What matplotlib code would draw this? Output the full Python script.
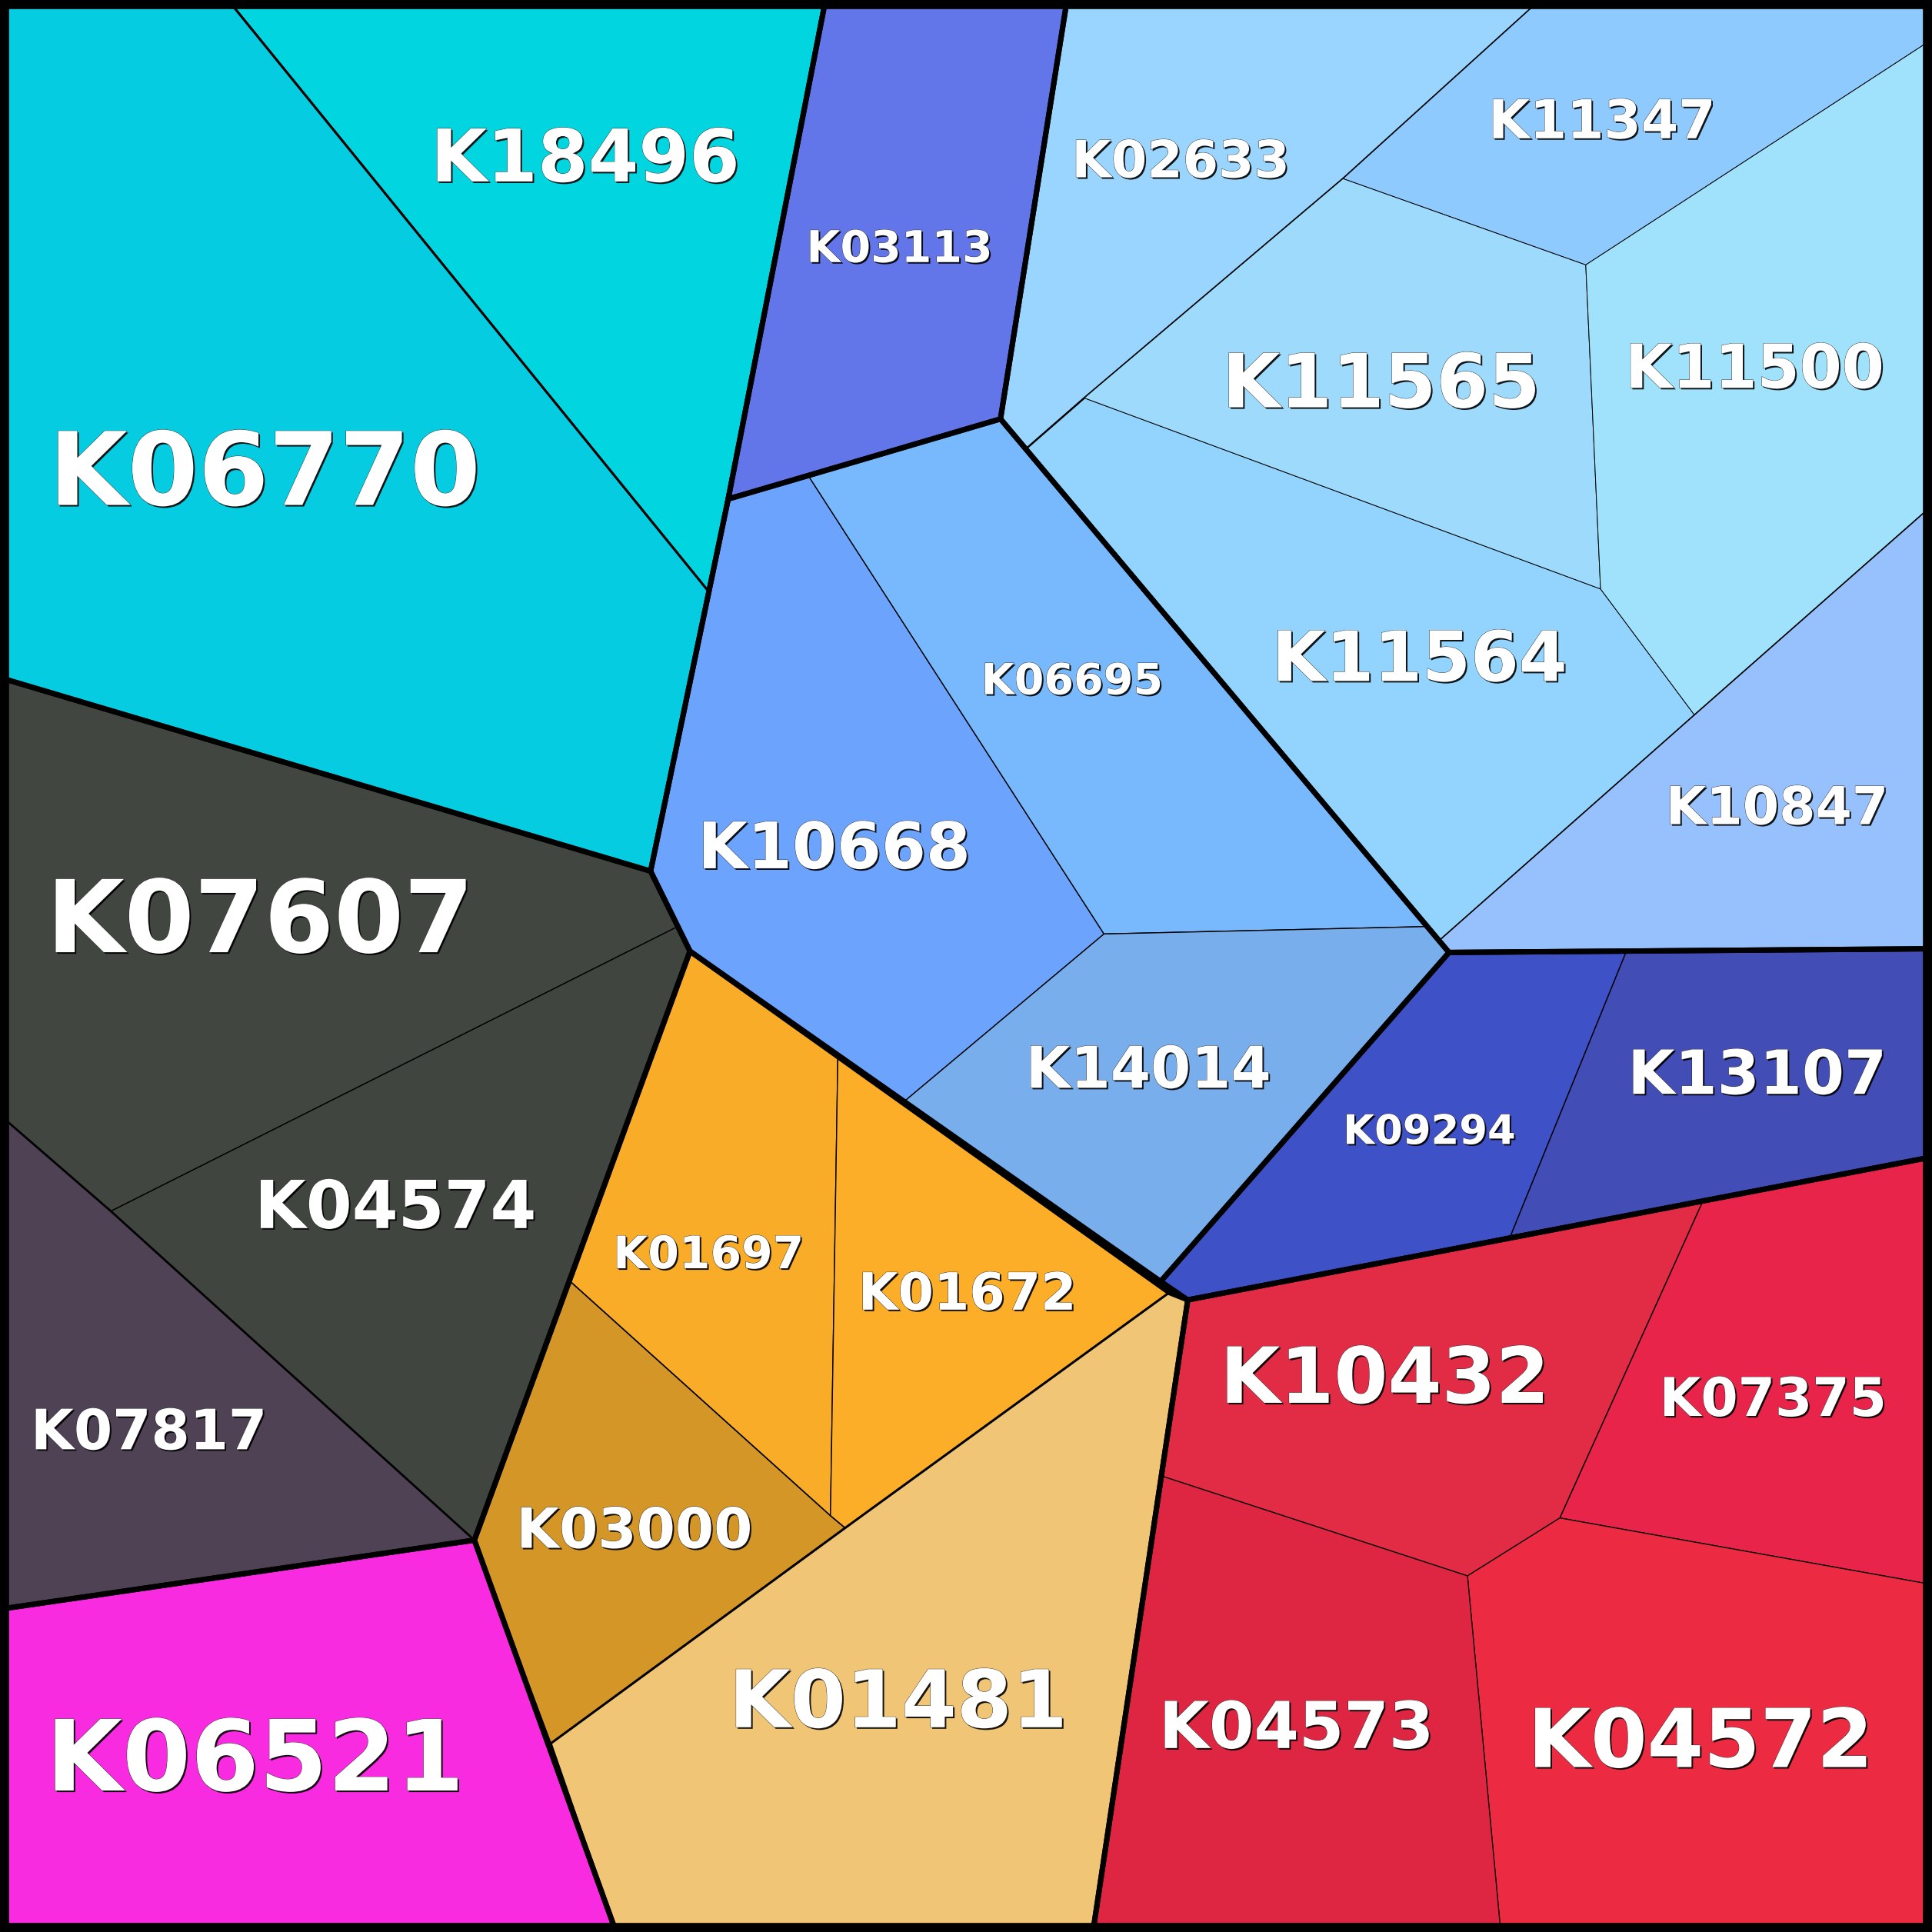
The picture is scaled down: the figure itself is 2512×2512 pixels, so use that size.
import matplotlib
matplotlib.use("Agg")
import matplotlib.pyplot as plt
import matplotlib.patheffects as pe
from matplotlib.patches import Polygon, Rectangle

# cell names, colours and outlines (picture read on a 1568 x 1568 grid, y down)
names = ["K18496", "K06770", "K07607", "K04574", "K07817", "K06521",
         "K03000", "K01697", "K01672", "K01481", "K03113", "K10668",
         "K06695", "K14014", "K09294", "K13107", "K10847", "K11564",
         "K02633", "K11347", "K11565", "K11500", "K10432", "K07375",
         "K04572", "K04573"]

colors = ["#00D5E0", "#06CCE1", "#414641", "#404540", "#504255", "#F92BE0",
          "#D49626", "#F8AC28", "#FDAE29", "#F1C576", "#6276EA", "#6CA3FC",
          "#77B9FC", "#79AEEC", "#3F51C6", "#424DB5", "#97C1FC", "#92D4FE",
          "#99D5FE", "#8FCAFE", "#9DDAFC", "#A0E2FC", "#E22B45", "#E9244B",
          "#EC2A42", "#DE2642"]

cells = [
    [(185, 0), (670, 0), (575, 480)],
    [(0, 0), (185, 0), (575, 480), (528, 707), (0, 550)],
    [(0, 550), (528, 707), (550, 752), (90, 983), (0, 905)],
    [(90, 983), (550, 752), (560, 772), (385, 1250)],
    [(0, 905), (90, 983), (385, 1250), (0, 1306)],
    [(0, 1306), (385, 1250), (500, 1568), (0, 1568)],
    [(385, 1250), (463, 1040), (674, 1230), (686, 1240), (447, 1415)],
    [(560, 772), (680, 857), (674, 1230), (463, 1040)],
    [(680, 857), (735, 893), (949, 1049), (686, 1240), (674, 1230)],
    [(447, 1415), (686, 1240), (949, 1049), (964, 1055), (887, 1568), (500, 1568)],
    [(670, 0), (866, 0), (812, 340), (656, 386), (591, 405)],
    [(591, 405), (656, 386), (896, 758), (735, 893), (560, 772), (528, 707)],
    [(656, 386), (812, 340), (1158, 752), (896, 758)],
    [(896, 758), (1158, 752), (1176, 773), (942, 1040), (735, 893)],
    [(1176, 773), (1320, 772), (1226, 1003), (964, 1055), (942, 1040)],
    [(1320, 772), (1568, 770), (1568, 939), (1226, 1003)],
    [(1168, 763), (1375, 580), (1568, 410), (1568, 770), (1176, 773)],
    [(833, 364), (880, 323), (1299, 478), (1375, 580), (1168, 763)],
    [(866, 0), (1250, 0), (1090, 145), (880, 323), (833, 364), (812, 340)],
    [(1250, 0), (1568, 0), (1568, 32), (1287, 215), (1090, 145)],
    [(1090, 145), (1287, 215), (1299, 478), (880, 323)],
    [(1568, 32), (1568, 410), (1375, 580), (1299, 478), (1287, 215)],
    [(964, 1055), (1226, 1003), (1382, 975), (1266, 1232), (1191, 1279), (943, 1198)],
    [(1382, 975), (1568, 939), (1568, 1286), (1266, 1232)],
    [(1191, 1279), (1266, 1232), (1568, 1286), (1568, 1568), (1218, 1568)],
    [(943, 1198), (1191, 1279), (1218, 1568), (887, 1568)],
]

# outlines of the top level groups
groups = [
    [(0, 0), (670, 0), (591, 405), (528, 707), (0, 550)],
    [(0, 550), (528, 707), (560, 772), (385, 1250), (0, 1306)],
    [(0, 1306), (385, 1250), (500, 1568), (0, 1568)],
    [(560, 772), (949, 1049), (964, 1055), (887, 1568), (500, 1568), (385, 1250)],
    [(670, 0), (866, 0), (812, 340), (656, 386), (591, 405)],
    [(591, 405), (812, 340), (1176, 773), (942, 1040), (560, 772), (528, 707)],
    [(1176, 773), (1568, 770), (1568, 939), (964, 1055), (942, 1040)],
    [(866, 0), (1568, 0), (1568, 770), (1176, 773), (812, 340)],
    [(964, 1055), (1568, 939), (1568, 1568), (887, 1568)],
]

edge_w = [2.2, 2.2, 1.0, 1.0, 2.0, 2.0, 1.5, 1.0, 1.0, 2.2, 2.0, 1.0,
          1.0, 1.0, 1.0, 1.0, 1.8, 0.7, 1.8, 0.7, 0.7, 0.7, 1.0, 1.0,
          0.9, 0.9]

label_xy = [(475, 131), (215, 387), (211, 750), (321, 982), (121, 1164),
            (207, 1431), (515, 1244), (575, 1019), (785, 1051), (729, 1384),
            (730, 203), (677, 690), (870, 554), (932, 870), (1160, 919),
            (1426, 874), (1442, 657), (1152, 537), (958, 132), (1300, 100),
            (1121, 314), (1424, 301), (1124, 1121), (1439, 1137),
            (1380, 1416), (1052, 1404)]

label_size = [68, 95, 94, 62, 52, 92, 52, 42, 48, 74.5, 41, 60, 40, 54, 38,
              57, 49, 65, 48, 50, 70, 57, 72.5, 50, 76, 60.5]

fig = plt.figure(figsize=(25.12, 25.12), dpi=100)
ax = fig.add_axes([0, 0, 1, 1])
ax.set_xlim(0, 1568)
ax.set_ylim(1568, 0)
ax.axis("off")

for pts, c, w in zip(cells, colors, edge_w):
    ax.add_patch(Polygon(pts, closed=True, facecolor=c, edgecolor="black",
                         linewidth=w, joinstyle="miter"))

for pts in groups:
    ax.add_patch(Polygon(pts, closed=True, facecolor="none", edgecolor="black",
                         linewidth=5, joinstyle="miter"))

ax.add_patch(Rectangle((0, 0), 1568, 1568, facecolor="none", edgecolor="black",
                       linewidth=17, clip_on=False))

effects = [pe.SimplePatchShadow(offset=(1.5, -1.5), shadow_rgbFace="black", alpha=0.9),
           pe.Stroke(linewidth=0.6, foreground="#202020"), pe.Normal()]

for name, (x, y), s in zip(names, label_xy, label_size):
    ax.text(x, y, name, ha="center", va="center", color="white",
            fontsize=s, fontweight="bold", family="DejaVu Sans",
            path_effects=effects)

fig.savefig("out.png", dpi=100)
